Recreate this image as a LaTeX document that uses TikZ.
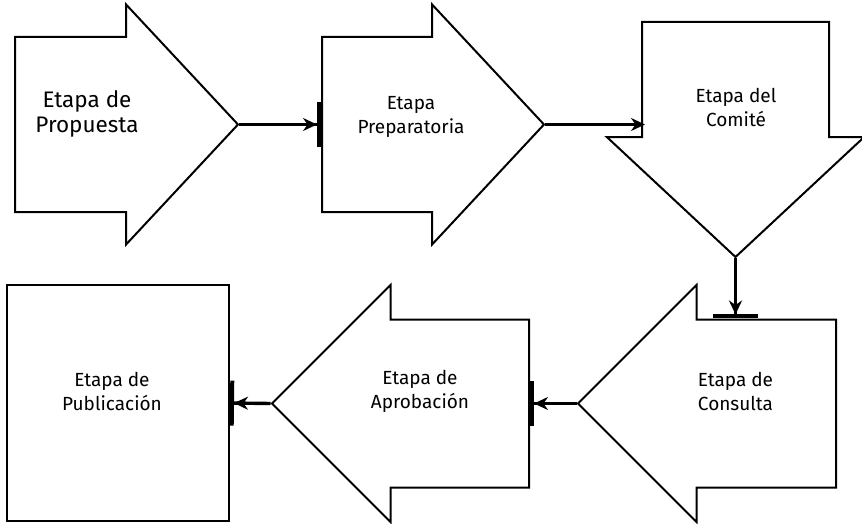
\documentclass[tikz,border=0pt]{standalone}
\usepackage{fontspec}
\setmainfont{Fira Sans}
\usepackage{tikz}
\usetikzlibrary{arrows.meta,positioning,shapes.arrows}

\begin{document}
\begin{tikzpicture}[
    x=1pt, y=1pt,
    stage/.style 2 args={single arrow, draw, line width=2pt, inner xsep=0pt,
                         minimum height=#1, inner ysep=#2},
    txt/.style={align=center, font=\fontsize{19}{24}\selectfont},
    conn/.style={-{Stealth[length=14pt,width=13pt]}, line width=3.4pt},
    connbar/.style={-{Stealth[length=14pt,width=13pt]Bar[width=45pt,line width=4pt]}, line width=3.4pt}
]
\useasboundingbox (0,0) rectangle (862,-524);

% top row
\node[stage={223}{86.5}, single arrow head extend=32.5, single arrow tip angle=94,
      anchor=tail] (prop) at (14,-124.5) {};
\node[stage={222}{86.5}, single arrow head extend=32.5, single arrow tip angle=94,
      anchor=tail] (prep) at (321,-124.5) {};
\node[stage={235}{0}, inner xsep=92.5, single arrow head extend=35, single arrow tip angle=94,
      shape border rotate=270, anchor=tail] (com) at (735.5,-21) {};

% bottom row
\node[stage={258}{83}, single arrow head extend=34.5, single arrow tip angle=90,
      shape border rotate=180, anchor=tail] (cons) at (837,-403.5) {};
\node[stage={257}{83}, single arrow head extend=34.5, single arrow tip angle=90,
      shape border rotate=180, anchor=tail] (apro) at (530,-403.5) {};
\node[draw, line width=2pt, minimum width=222, minimum height=236] (pub) at (118,-403) {};

\node[txt, font=\fontsize{22.5}{25}\selectfont] (tprop) at (87,-114) {Etapa de\\Propuesta};
\node[txt] (tprep) at (411,-116.5) {Etapa\\Preparatoria};
\node[txt] (tcom) at (736,-107.5) {Etapa del\\Comité};
\node[txt] (tcons) at (735.5,-391.5) {Etapa de\\Consulta};
\node[txt] (tapro) at (420,-391.5) {Etapa de\\Aprobación};
\node[txt] (tpub) at (112,-391.5) {Etapa de\\Publicación};

\draw[connbar] (prop.tip) -- (prep.tail);
\draw[conn] (prep.tip) -- ([xshift=4pt]prep.tip -| com.180);
\draw[connbar] (com.tip) -- (com.tip |- cons.90);
\draw[connbar] (cons.tip) -- (apro.tail);
\draw[connbar] (apro.tip) -- (pub.east);
\end{tikzpicture}
\end{document}
